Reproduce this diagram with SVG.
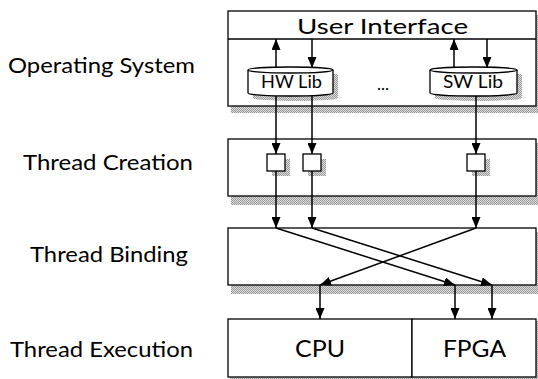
<svg xmlns="http://www.w3.org/2000/svg" width="538" height="379" viewBox="0 0 538 379">
<style>
text{font-family:Lato,"Liberation Sans",sans-serif;fill:#000}
.box{fill:#fff;stroke:#000;stroke-width:1.3}
.sh{fill:url(#dither);stroke:none}
.lbl{font-size:22px}
.big{font-size:21.5px}
.lib{font-size:17px}
.pu{font-size:23px}
.con path{fill:none;stroke:#000;stroke-width:1.5;marker-end:url(#ah)}
</style>
<defs>
<pattern id="dither" width="2" height="2" patternUnits="userSpaceOnUse">
<rect width="2" height="2" fill="#dcdcdc"/>
<rect width="1" height="1" fill="#9a9a9a"/>
<rect x="1" y="1" width="1" height="1" fill="#9a9a9a"/>
</pattern>
<marker id="ah" markerUnits="userSpaceOnUse" markerWidth="11" markerHeight="9" refX="11" refY="4.5" orient="auto">
<path d="M0,0 L11,4.5 L0,9 Z" fill="#000"/>
</marker>
</defs>
<rect width="538" height="379" fill="#fff"/>

<g id="labels">
<text class="lbl" x="8" y="73" textLength="187" lengthAdjust="spacingAndGlyphs">Operating System</text>
<text class="lbl" x="23" y="170" textLength="170" lengthAdjust="spacingAndGlyphs">Thread Creation</text>
<text class="lbl" x="30" y="262" textLength="158" lengthAdjust="spacingAndGlyphs">Thread Binding</text>
<text class="lbl" x="10" y="357" textLength="183" lengthAdjust="spacingAndGlyphs">Thread Execution</text>
</g>

<g id="os">
<rect class="sh" x="231" y="15" width="308" height="98"/>
<rect class="box" x="228" y="11" width="308" height="95"/>
<line x1="228" y1="39" x2="536" y2="39" stroke="#000" stroke-width="1.3"/>
<text class="big" x="297" y="34" textLength="171" lengthAdjust="spacingAndGlyphs">User Interface</text>
<text class="lib" x="383" y="90" text-anchor="middle">...</text>
</g>

<g id="hwlib">
<path class="sh" d="M253,75 A42.5,3 0 0 1 338,75 L338,98 A42.5,3 0 0 1 253,98 Z"/>
<path class="box" d="M248,70 A42.5,3 0 0 1 333,70 L333,93 A42.5,3 0 0 1 248,93 Z"/>
<path d="M248,70 A42.5,3 0 0 0 333,70" fill="none" stroke="#000" stroke-width="1.3"/>
<text class="lib" x="261" y="88" textLength="61" lengthAdjust="spacingAndGlyphs">HW Lib</text>
</g>

<g id="swlib">
<path class="sh" d="M435,75 A43.5,3 0 0 1 522,75 L522,98 A43.5,3 0 0 1 435,98 Z"/>
<path class="box" d="M430,70 A43.5,3 0 0 1 517,70 L517,93 A43.5,3 0 0 1 430,93 Z"/>
<path d="M430,70 A43.5,3 0 0 0 517,70" fill="none" stroke="#000" stroke-width="1.3"/>
<text class="lib" x="443" y="88" textLength="60" lengthAdjust="spacingAndGlyphs">SW Lib</text>
</g>

<g id="creation">
<rect class="sh" x="231" y="143" width="308" height="62"/>
<rect class="box" x="228" y="139" width="308" height="57"/>
</g>

<g id="threads">
<rect class="sh" x="272" y="159" width="18" height="17"/>
<rect class="sh" x="308" y="159" width="18" height="17"/>
<rect class="sh" x="472" y="159" width="18" height="17"/>
<rect class="box" x="267" y="154" width="18" height="17"/>
<rect class="box" x="303" y="154" width="18" height="17"/>
<rect class="box" x="467" y="154" width="18" height="17"/>
</g>

<g id="binding">
<rect class="sh" x="231" y="232" width="308" height="62"/>
<rect class="box" x="228" y="228" width="308" height="57"/>
</g>

<g id="cpu">
<rect class="sh" x="230" y="321" width="184" height="60"/>
<rect class="box" x="228" y="319" width="184" height="58"/>
<text class="pu" x="295" y="357" textLength="50" lengthAdjust="spacingAndGlyphs">CPU</text>
</g>

<g id="fpga">
<rect class="sh" x="414" y="321" width="124" height="60"/>
<rect class="box" x="412" y="319" width="124" height="58"/>
<text class="pu" x="443" y="357" textLength="63" lengthAdjust="spacingAndGlyphs">FPGA</text>
</g>

<g id="connectors" class="con">
<path d="M276,68 L276,39"/>
<path d="M312,39 L312,68"/>
<path d="M454,68 L454,39"/>
<path d="M487,39 L487,68"/>
<path d="M276,96 L276,154"/>
<path d="M312,96 L312,154"/>
<path d="M476,96 L476,154"/>
<path d="M276,171 L276,228"/>
<path d="M312,171 L312,228"/>
<path d="M476,171 L476,228"/>
<path d="M276,228 L455,285"/>
<path d="M312,228 L492,285"/>
<path d="M476,228 L320,285"/>
<path d="M320,285 L320,319"/>
<path d="M455,285 L455,319"/>
<path d="M492,285 L492,319"/>
</g>
</svg>
